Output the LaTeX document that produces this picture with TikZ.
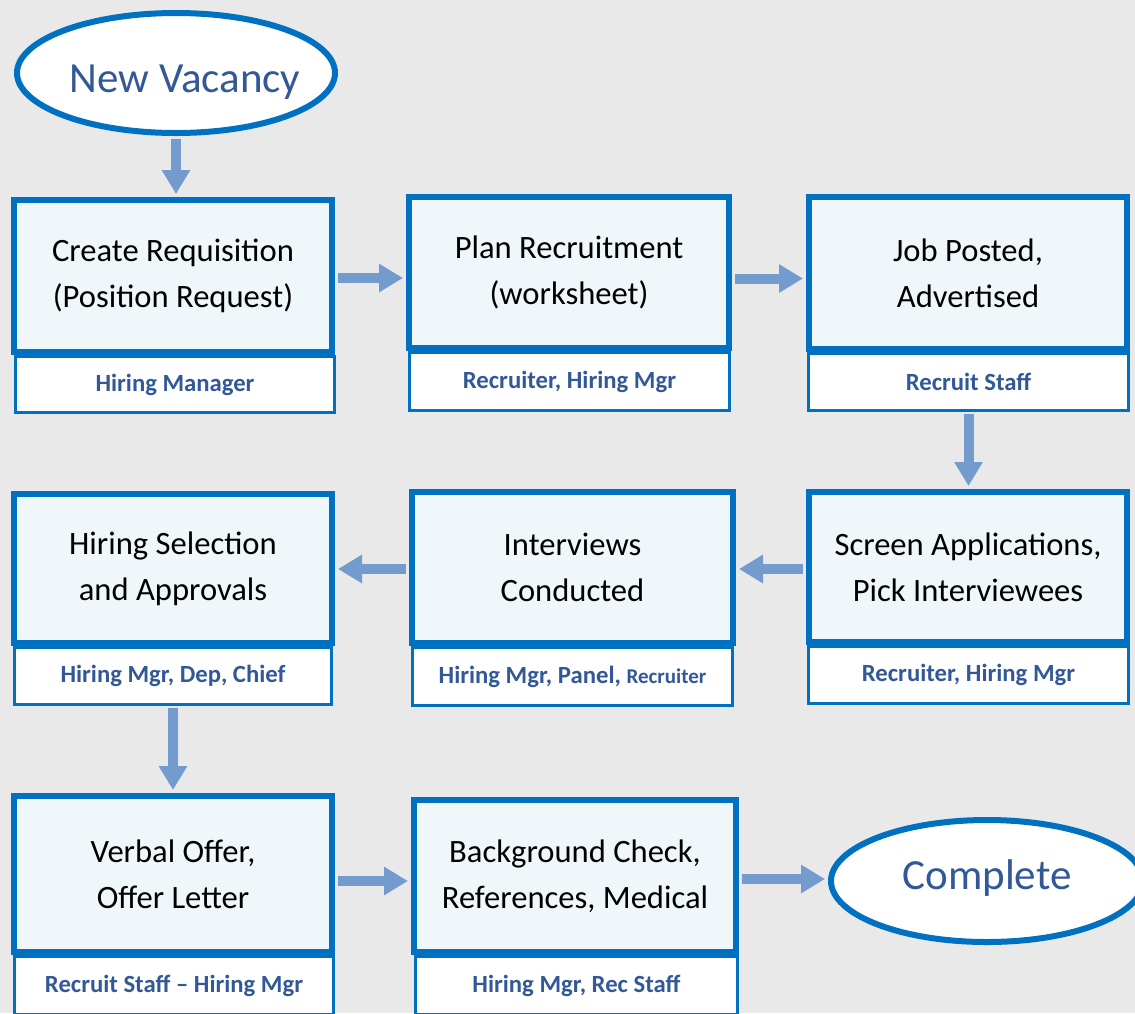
\documentclass[tikz,border=0pt]{standalone}
\usepackage{fontspec}
\setmainfont{Carlito}
\usetikzlibrary{arrows.meta,shapes.geometric}
\definecolor{bord}{RGB}{0,112,192}
\definecolor{boxfill}{RGB}{240,247,250}
\definecolor{arrowc}{RGB}{115,155,205}
\definecolor{labtxt}{RGB}{50,88,152}
\definecolor{bgc}{RGB}{233,233,233}
\begin{document}
\begin{tikzpicture}[x=1pt,y=-1pt,
  mainbox/.style={draw=bord, fill=boxfill, line width=6pt, inner sep=0pt, align=center,
    font=\fontsize{32.6}{46}\selectfont},
  labbox/.style={draw=bord, fill=white, line width=3pt, inner sep=0pt,
    font=\fontsize{24.7}{28}\selectfont\bfseries, text=labtxt},
  endpt/.style={ellipse, draw=bord, fill=white, line width=6pt, inner sep=0pt},
  endtxt/.style={font=\fontsize{43}{50}\selectfont, text=labtxt, inner sep=0pt, anchor=base},
  flow/.style={draw=arrowc, line width=10pt, -{Triangle[width=27pt,length=24pt]},
    shorten >=3pt, shorten <=3pt}
]
\useasboundingbox (0,0) rectangle (1135,1013);
\fill[bgc] (0,0) rectangle (1135,1013);
\clip (0,0) rectangle (1135,1013);

% start / end
\node[endpt, minimum width=318pt, minimum height=120pt] (nv) at (176,73) {};
\node[endtxt] (nvt) at (185,92) {New Vacancy};
\node[endpt, minimum width=312pt, minimum height=122pt] (c) at (987,881) {};
\node[endtxt] (ct) at (987,889) {Complete};

% labels (drawn first)
\node[labbox, minimum width=319pt, minimum height=56pt] (l1) at (175,384.5) {Hiring Manager};
\node[labbox, minimum width=320pt, minimum height=58pt] (l2) at (569.5,381.5) {Recruiter, Hiring Mgr};
\node[labbox, minimum width=320pt, minimum height=57pt] (l3) at (968.5,382) {Recruit Staff};
\node[labbox, minimum width=317pt, minimum height=57pt] (l4) at (173,676) {Hiring Mgr, Dep, Chief};
\node[labbox, minimum width=320pt, minimum height=58pt] (l5) at (572.5,676.5) {Hiring Mgr, Panel, {\fontsize{21}{24}\selectfont Recruiter}};
\node[labbox, minimum width=320pt, minimum height=57pt] (l6) at (968.5,675) {Recruiter, Hiring Mgr};
\node[labbox, minimum width=319pt, minimum height=58pt] (l7) at (174,985.5) {Recruit Staff – Hiring Mgr};
\node[labbox, minimum width=322pt, minimum height=58pt] (l8) at (576.5,985.5) {Hiring Mgr, Rec Staff};

% main boxes
\node[mainbox, minimum width=318pt, minimum height=152pt] (b1) at (173,276) {Create Requisition\\(Position Request)};
\node[mainbox, minimum width=320pt, minimum height=151pt] (b2) at (569,272.5) {Plan Recruitment\\(worksheet)};
\node[mainbox, minimum width=318pt, minimum height=152pt] (b3) at (968,273) {Job Posted,\\Advertised};
\node[mainbox, minimum width=318pt, minimum height=149pt] (b4) at (173,568.5) {Hiring Selection\\and Approvals};
\node[mainbox, minimum width=321pt, minimum height=151pt] (b5) at (572.5,567.5) {Interviews\\Conducted};
\node[mainbox, minimum width=318pt, minimum height=150pt] (b6) at (968,567) {Screen Applications,\\Pick Interviewees};
\node[mainbox, minimum width=318pt, minimum height=156pt] (b7) at (173,874) {Verbal Offer,\\Offer Letter};
\node[mainbox, minimum width=322pt, minimum height=152pt] (b8) at (575,876) {Background Check,\\References, Medical};

% connectors
\draw[flow] (nv.south) -- (nv.south |- b1.north);
\draw[flow] ([yshift=-2pt]b1.east) -- ([yshift=-2pt]b1.east -| b2.west);
\draw[flow] ([yshift=-6pt]b2.east) -- ([yshift=-6pt]b2.east -| b3.west);
\draw[flow, shorten <=1.5pt] (l3.south) -- (l3.south |- b6.north);
\draw[flow] ([yshift=-2pt]b6.west) -- ([yshift=-2pt]b6.west -| b5.east);
\draw[flow] ([yshift=-1.5pt]b5.west) -- ([yshift=-1.5pt]b5.west -| b4.east);
\draw[flow, shorten <=1.5pt] (l4.south) -- (l4.south |- b7.north);
\draw[flow] ([yshift=-7pt]b7.east) -- ([yshift=-7pt]b7.east -| b8.west);
\draw[flow] ([yshift=-3pt]b8.east) -- ([yshift=-3pt]b8.east -| c.west);
\end{tikzpicture}
\end{document}
